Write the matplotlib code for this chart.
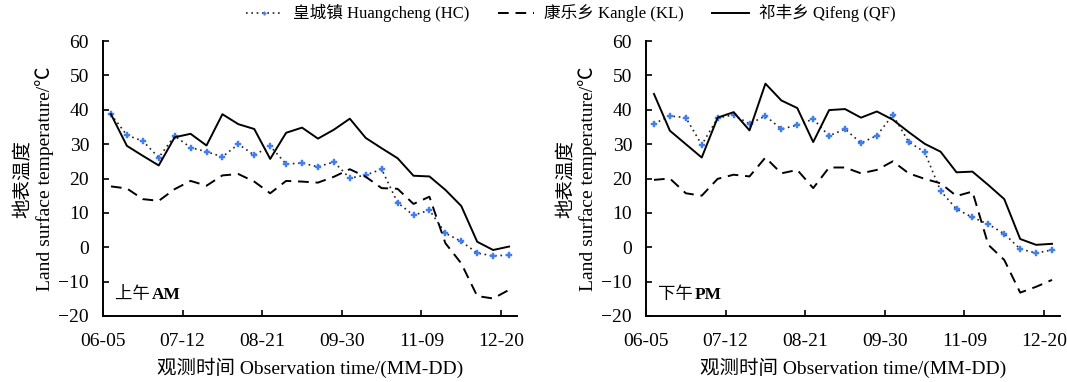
import matplotlib
matplotlib.use("Agg")
import matplotlib.pyplot as plt
import numpy as np

plt.rcParams['font.family'] = ['Liberation Serif', 'Noto Sans CJK SC']
plt.rcParams['axes.unicode_minus'] = True

# ---- data ----
tick_labels = ["06-05", "07-12", "08-21", "09-30", "11-09", "12-20"]
series_names = ["皇城镇 Huangcheng (HC)", "康乐乡 Kangle (KL)", "祁丰乡 Qifeng (QF)"]

am_hc = [38.7, 32.6, 30.9, 26.1, 32.4, 29.0, 27.8, 26.3, 30.0, 26.8, 29.4, 24.2, 24.5,
         23.4, 24.8, 20.1, 21.0, 22.7, 13.0, 9.3, 10.8, 4.1, 1.7, -1.7, -2.5, -2.3]
am_kl = [17.7, 17.1, 14.0, 13.5, 16.9, 19.3, 17.9, 20.9, 21.3, 19.1, 15.7, 19.3, 19.1,
         18.8, 20.5, 22.7, 20.5, 17.2, 17.0, 12.6, 14.7, 1.2, -4.7, -14.2, -14.9, -12.4]
am_qf = [38.7, 29.5, 26.6, 23.8, 32.0, 33.0, 29.6, 38.7, 35.8, 34.4, 25.7, 33.3, 34.8,
         31.6, 34.2, 37.4, 31.8, 28.8, 25.9, 20.8, 20.6, 16.7, 12.0, 1.6, -0.8, 0.2]

pm_hc = [35.9, 38.2, 37.7, 29.8, 37.6, 38.5, 35.9, 38.2, 34.4, 35.5, 37.3, 32.4, 34.4,
         30.3, 32.5, 38.5, 30.6, 27.7, 16.4, 11.1, 8.7, 6.7, 3.9, -0.5, -1.7, -0.8]
pm_kl = [19.6, 20.0, 15.7, 15.0, 19.9, 21.1, 20.6, 26.1, 21.5, 22.5, 17.2, 23.2, 23.2,
         21.5, 22.5, 25.0, 21.5, 19.9, 18.6, 14.9, 16.2, 0.7, -3.7, -13.2, -11.5, -9.5]
pm_qf = [44.6, 33.9, 30.0, 26.1, 37.7, 39.3, 34.0, 47.6, 42.7, 40.5, 30.6, 39.9, 40.2,
         37.7, 39.5, 37.1, 33.5, 30.1, 27.8, 21.8, 22.0, 18.1, 14.0, 2.4, 0.7, 1.0]

panels = [("上午 ", "AM", am_hc, am_kl, am_qf), ("下午 ", "PM", pm_hc, pm_kl, pm_qf)]

fig = plt.figure(figsize=(10.67, 3.82), dpi=100)
W, H = 1067, 382
ax_rects = [
    [103 / W, 1 - 316 / H, 414 / W, 275 / H],
    [646 / W, 1 - 316 / H, 414 / W, 275 / H],
]

FS = 14
blue = '#3f7ff2'
handles = None
for rect, (cn, en, hc, kl, qf) in zip(ax_rects, panels):
    ax = fig.add_axes(rect)
    x = np.arange(len(hc))
    h1, = ax.plot(x, hc, linestyle=(0, (1, 2.2)), color='#222222', lw=1.2,
                  marker='P', markersize=5, markerfacecolor=blue,
                  markeredgecolor=blue, markeredgewidth=0.3)
    h2, = ax.plot(x, kl, linestyle=(0, (5.5, 3.5)), color='black', lw=1.4)
    h3, = ax.plot(x, qf, linestyle='-', color='black', lw=1.4)
    handles = [h1, h2, h3]
    ax.set_xlim(-0.5, len(hc) - 0.5)
    ax.set_ylim(-20, 60)
    ax.set_yticks(np.arange(-20, 61, 10))
    ax.set_xticks([i * 5 - 0.5 for i in range(len(tick_labels))])
    ax.set_xticklabels(tick_labels)
    for s in ['top', 'right']:
        ax.spines[s].set_visible(False)
    for s in ['left', 'bottom']:
        ax.spines[s].set_linewidth(1.4)
    ax.tick_params(axis='both', direction='in', length=4.5, width=1.2,
                   labelsize=FS)
    ax.tick_params(axis='x', pad=12)
    ax.tick_params(axis='y', pad=10)
    ax.set_ylabel("地表温度\nLand surface temperature/℃", fontsize=FS, labelpad=3)
    ax.set_xlabel("观测时间 Observation time/(MM-DD)", fontsize=FS, labelpad=6)
    ax.text(0.03, 0.075, cn, transform=ax.transAxes, fontsize=12.5,
            ha='left', va='center')
    ax.text(0.03 + 0.088, 0.075, en, transform=ax.transAxes, fontsize=12.5,
            ha='left', va='center', fontweight='bold')

fig.legend(handles, series_names, loc='center', bbox_to_anchor=(0.535, 0.965),
           ncol=3, frameon=False, fontsize=12, handlelength=2.2,
           handletextpad=0.6, columnspacing=1.7, numpoints=1, markerscale=0.5)

fig.savefig("out.png", dpi=100)
